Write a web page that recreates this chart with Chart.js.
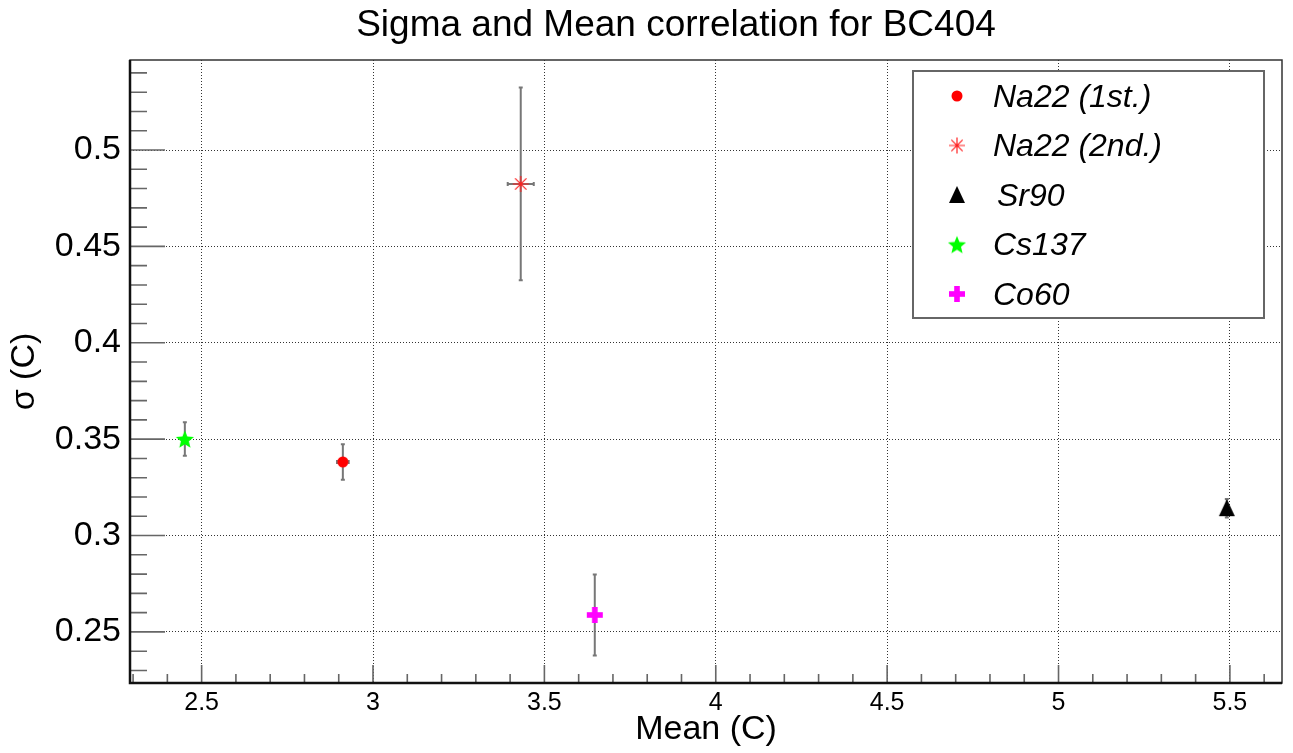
<!DOCTYPE html>
<html>
<head>
<meta charset="utf-8">
<title>Sigma and Mean correlation for BC404</title>
<script src="https://cdn.jsdelivr.net/npm/chart.js@4.4.1/dist/chart.umd.min.js"></script>
<style>
  html, body { margin: 0; padding: 0; background: #fff; }
</style>
</head>
<body>
<canvas id="sigma-chart" width="1293" height="753"></canvas>
<script>
// data
const sources = ["Na22 (1st.)", "Na22 (2nd.)", "Sr90", "Cs137", "Co60"];
const meanValues = [2.912, 3.431, 5.491, 2.451, 3.647];
const meanErrors = [0.017, 0.038, 0, 0, 0];
const sigmaValues = [0.3382, 0.4824, 0.3142, 0.3501, 0.2588];
const sigmaErrors = [0.0092, 0.050, 0.0048, 0.0087, 0.021];
const colors = ["#ff0000", "#ff2020", "#000000", "#00ff00", "#ff00ff"];

const xTicks = [2.5, 3, 3.5, 4, 4.5, 5, 5.5];
const yTicks = [0.25, 0.3, 0.35, 0.4, 0.45, 0.5];

const xMin = 2.291, xMax = 5.652;
const yMin = 0.2235, yMax = 0.5467;

const FONT = '"Liberation Sans", Arial, Helvetica, sans-serif';

// minor ticks every 0.1 on x and 0.01 on y
const xMinor = [];
for (let i = 23; i <= 56; i++) xMinor.push(i / 10);
const yMinor = [];
for (let i = 23; i <= 54; i++) yMinor.push(i / 100);

// marker images, one per series
function makeMarker(kind, color) {
  const c = document.createElement("canvas");
  c.width = 22;
  c.height = 22;
  const g = c.getContext("2d");
  const m = 11;
  g.fillStyle = color;
  g.strokeStyle = color;
  if (kind === "circle") {
    g.beginPath();
    g.arc(m, m, 5.5, 0, Math.PI * 2);
    g.fill();
  } else if (kind === "asterisk") {
    g.lineWidth = 1.2;
    g.beginPath();
    for (let k = 0; k < 4; k++) {
      const a = k * Math.PI / 4;
      g.moveTo(m - Math.cos(a) * 8, m - Math.sin(a) * 8);
      g.lineTo(m + Math.cos(a) * 8, m + Math.sin(a) * 8);
    }
    g.stroke();
  } else if (kind === "triangle") {
    g.beginPath();
    g.moveTo(m, m - 9);
    g.lineTo(m + 8, m + 8);
    g.lineTo(m - 8, m + 8);
    g.closePath();
    g.fill();
  } else if (kind === "star") {
    g.beginPath();
    for (let k = 0; k < 10; k++) {
      const r = k % 2 === 0 ? 9.5 : 4.2;
      const a = -Math.PI / 2 + k * Math.PI / 5;
      const px = m + Math.cos(a) * r, py = m + 1 + Math.sin(a) * r;
      if (k === 0) g.moveTo(px, py); else g.lineTo(px, py);
    }
    g.closePath();
    g.fill();
  } else if (kind === "plus") {
    g.fillRect(m - 8, m - 2.8, 16, 5.6);
    g.fillRect(m - 2.8, m - 8, 5.6, 16);
  }
  return c;
}

const markerKinds = ["circle", "asterisk", "triangle", "star", "plus"];
const markers = markerKinds.map((k, i) => makeMarker(k, colors[i]));

const datasets = sources.map((name, i) => ({
  label: name,
  data: [{ x: meanValues[i], y: sigmaValues[i] }],
  pointStyle: markers[i],
  backgroundColor: colors[i],
  borderColor: colors[i],
}));

const rootPlot = {
  id: "rootPlot",
  beforeDatasetsDraw(chart) {
    const { ctx, scales: { x, y } } = chart;
    ctx.save();
    ctx.strokeStyle = "#777";
    ctx.lineWidth = 2;
    for (let i = 0; i < sources.length; i++) {
      const px = x.getPixelForValue(meanValues[i]);
      const py = y.getPixelForValue(sigmaValues[i]);
      const y1 = y.getPixelForValue(sigmaValues[i] - sigmaErrors[i]);
      const y2 = y.getPixelForValue(sigmaValues[i] + sigmaErrors[i]);
      ctx.beginPath();
      ctx.moveTo(px, y1); ctx.lineTo(px, y2);
      ctx.moveTo(px - 2, y1); ctx.lineTo(px + 2, y1);
      ctx.moveTo(px - 2, y2); ctx.lineTo(px + 2, y2);
      if (meanErrors[i] > 0) {
        const x1 = x.getPixelForValue(meanValues[i] - meanErrors[i]);
        const x2 = x.getPixelForValue(meanValues[i] + meanErrors[i]);
        ctx.moveTo(x1, py); ctx.lineTo(x2, py);
        ctx.moveTo(x1, py - 2); ctx.lineTo(x1, py + 2);
        ctx.moveTo(x2, py - 2); ctx.lineTo(x2, py + 2);
      }
      ctx.stroke();
    }
    ctx.restore();
  },
  afterDraw(chart) {
    const { ctx, chartArea: a, scales: { x, y } } = chart;
    ctx.save();

    // inward ticks
    ctx.strokeStyle = "#666";
    ctx.lineWidth = 1.6;
    ctx.beginPath();
    xMinor.forEach(v => {
      const px = x.getPixelForValue(v);
      const major = xTicks.some(t => Math.abs(t - v) < 1e-6);
      ctx.moveTo(px, a.bottom);
      ctx.lineTo(px, a.bottom - (major ? 18 : 9));
    });
    yMinor.forEach(v => {
      const py = y.getPixelForValue(v);
      const major = yTicks.some(t => Math.abs(t - v) < 1e-6);
      ctx.moveTo(a.left, py);
      ctx.lineTo(a.left + (major ? 35 : 17), py);
    });
    ctx.stroke();

    // frame
    ctx.strokeStyle = "#333";
    ctx.lineWidth = 1.5;
    ctx.strokeRect(a.left, a.top, a.right - a.left, a.bottom - a.top);
    ctx.strokeStyle = "#111";
    ctx.lineWidth = 2.5;
    ctx.beginPath();
    ctx.moveTo(a.left, a.top);
    ctx.lineTo(a.left, a.bottom);
    ctx.lineTo(a.right, a.bottom);
    ctx.stroke();

    // title
    ctx.fillStyle = "#000";
    ctx.font = "37px " + FONT;
    ctx.textAlign = "center";
    ctx.textBaseline = "middle";
    ctx.fillText("Sigma and Mean correlation for BC404", 676, 26);

    // legend
    const lx = 913, ly = 71, lw = 351, lh = 247;
    ctx.fillStyle = "#fff";
    ctx.fillRect(lx, ly, lw, lh);
    ctx.strokeStyle = "#666";
    ctx.lineWidth = 2;
    ctx.strokeRect(lx, ly, lw, lh);
    ctx.font = "italic 32px " + FONT;
    ctx.textAlign = "left";
    ctx.fillStyle = "#000";
    sources.forEach((name, i) => {
      const ry = 96 + i * 49.5;
      const img = markers[i];
      ctx.drawImage(img, 957 - img.width / 2, ry - img.height / 2);
      ctx.fillText(name, i === 2 ? 997 : 993, ry + 2);
    });

    ctx.restore();
  }
};

new Chart(document.querySelector("#sigma-chart"), {
  type: "scatter",
  data: { datasets },
  options: {
    responsive: false,
    animation: false,
    layout: { padding: { left: 0, top: 60, right: 11, bottom: 0 } },
    plugins: {
      legend: { display: false },
      title: { display: false },
      tooltip: { enabled: false },
    },
    scales: {
      x: {
        type: "linear",
        min: xMin,
        max: xMax,
        afterBuildTicks: axis => { axis.ticks = xTicks.map(v => ({ value: v })); },
        afterFit: axis => { axis.height = 70; },
        grid: { color: "#333", lineWidth: 1, drawTicks: false },
        border: { display: false, dash: [1, 2] },
        ticks: {
          padding: 5,
          color: "#000",
          font: { family: FONT, size: 25 },
          callback: v => String(+v.toFixed(3)),
        },
        title: {
          display: true,
          text: "Mean (C)",
          color: "#000",
          font: { family: FONT, size: 34 },
          padding: { top: 0, bottom: 3 },
        },
      },
      y: {
        type: "linear",
        min: yMin,
        max: yMax,
        afterBuildTicks: axis => { axis.ticks = yTicks.map(v => ({ value: v })); },
        afterFit: axis => { axis.width = 130; },
        grid: { color: "#333", lineWidth: 1, drawTicks: false },
        border: { display: false, dash: [1, 2] },
        ticks: {
          padding: 9,
          color: "#000",
          font: { family: FONT, size: 34 },
          callback: v => String(+v.toFixed(3)),
        },
        title: {
          display: true,
          text: "σ (C)",
          color: "#000",
          font: { family: FONT, size: 34 },
          padding: { top: 4, bottom: 0 },
        },
      },
    },
  },
  plugins: [rootPlot],
});
</script>
</body>
</html>
